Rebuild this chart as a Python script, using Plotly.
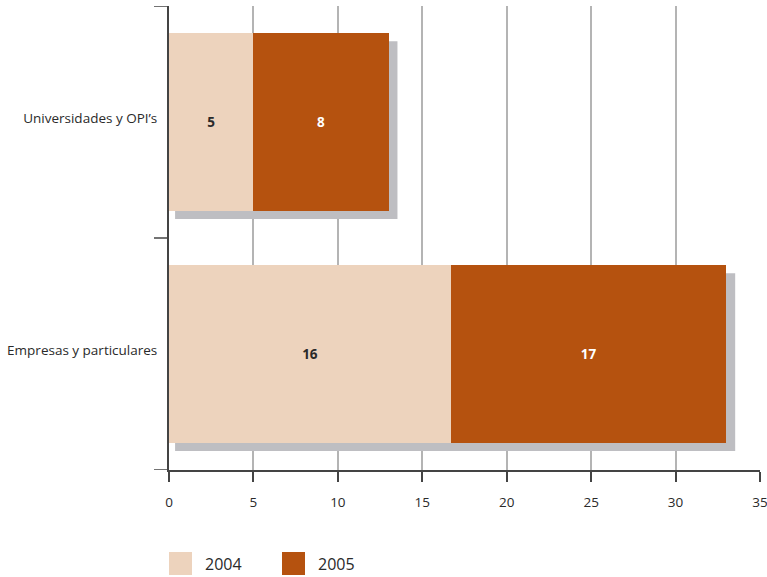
import plotly.graph_objects as go

categories = ["Empresas y particulares", "Universidades y OPI’s"]
values_2004 = [16.7, 5]
values_2005 = [16.3, 8]
labels_2004 = ["16", "5"]
labels_2005 = ["17", "8"]
series_names = ["2004", "2005"]
x_ticks = [0, 5, 10, 15, 20, 25, 30, 35]

c2004 = "#EDD3BD"
c2005 = "#B5520F"
shadow = "#BEBEC2"
bar_w = 0.765
font_family = "Open Sans, Lato, sans-serif"

fig = go.Figure()
fig.add_trace(go.Bar(
    y=categories, x=values_2004, orientation="h", name=series_names[0],
    marker=dict(color=c2004, line=dict(width=0)), width=bar_w,
    text=labels_2004, textposition="inside", insidetextanchor="middle",
    textfont=dict(color="#2a2a2a", size=13.5, family=font_family, weight="bold"),
    showlegend=False,
))
fig.add_trace(go.Bar(
    y=categories, x=values_2005, orientation="h", name=series_names[1],
    marker=dict(color=c2005, line=dict(width=0)), width=bar_w,
    text=labels_2005, textposition="inside", insidetextanchor="middle",
    textfont=dict(color="white", size=13.5, family=font_family, weight="bold"),
    showlegend=False,
))

shapes = []
# drop shadows behind stacked totals
for i, (a, b) in enumerate(zip(values_2004, values_2005)):
    total = a + b
    shapes.append(dict(type="rect", xref="x", yref="y", layer="between",
                       x0=0.36, x1=total + 0.53,
                       y0=i - bar_w / 2 - 0.036, y1=i + bar_w / 2 - 0.034,
                       fillcolor=shadow, line=dict(width=0)))
# y-axis tick marks at category boundaries
for yb in [-0.5, 0.5, 1.5]:
    shapes.append(dict(type="line", xref="paper", yref="y",
                       x0=-15 / 591, x1=0, y0=yb, y1=yb,
                       line=dict(color="#444", width=1.5)))

annotations = []
# legend swatches
leg_x = [0.0, 113 / 591]
for k, (name, col) in enumerate(zip(series_names, [c2004, c2005])):
    shapes.append(dict(type="rect", xref="paper", yref="paper",
                       x0=leg_x[k], x1=leg_x[k] + 23 / 591,
                       y0=-82 / 464, y1=-105 / 464,
                       fillcolor=col, line=dict(width=0)))
    annotations.append(dict(xref="paper", yref="paper", x=leg_x[k] + 34 / 591,
                            y=-93.5 / 464, text=name, showarrow=False,
                            xanchor="left", yanchor="middle",
                            font=dict(size=16, color="#2a2a2a", family=font_family)))

fig.update_layout(
    barmode="stack",
    width=767, height=577,
    margin=dict(l=169, r=7, t=6, b=107),
    plot_bgcolor="white", paper_bgcolor="white",
    shapes=shapes, annotations=annotations,
    showlegend=False,
    font=dict(family=font_family, color="#2a2a2a", size=13),
    xaxis=dict(
        range=[0, 35], tickvals=x_ticks, ticktext=[str(t) for t in x_ticks],
        showgrid=True, gridcolor="#B4B4B4", gridwidth=1.5,
        ticks="outside", ticklen=10, tickwidth=1.5, tickcolor="#444",
        showline=True, linecolor="#444", linewidth=1.5,
        zeroline=False, ticklabelstandoff=9, automargin=False,
        ticklabeloverflow="allow",
        tickfont=dict(size=13.5, color="#2a2a2a"),
    ),
    yaxis=dict(
        range=[-0.5, 1.5], type="category",
        showgrid=False, ticks="", showline=True, linecolor="#444", linewidth=2,
        ticklabelstandoff=7, zeroline=False, automargin=False,
        ticklabeloverflow="allow", ticklabelshift=-4,
        tickfont=dict(size=13.5, color="#2a2a2a"),
    ),
)

fig.write_html("out.html", config={"displayModeBar": False},
               post_script="document.body.style.margin='0';document.body.style.overflow='hidden';")
